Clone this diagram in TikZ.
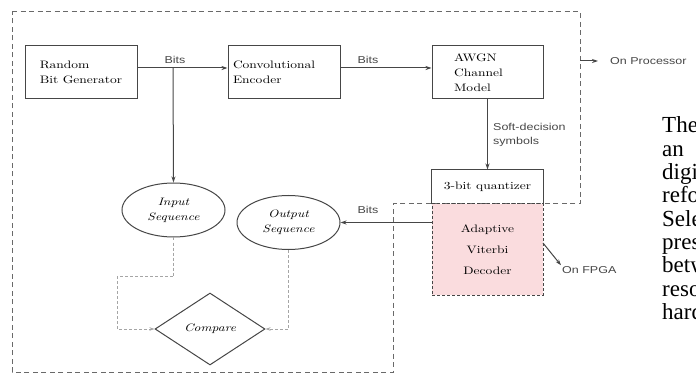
\documentclass[tikz,border=0pt]{standalone}
\usepackage{fontspec}
\usepackage{tikz}
\usetikzlibrary{arrows.meta, shapes.geometric}
\newfontfamily\boxfont{lmroman10-regular.otf}[FakeStretch=1.25, ItalicFont=lmroman10-italic.otf]
\newfontfamily\lblfont{Liberation Sans}[FakeStretch=1.25]
\newfontfamily\bodyfont{Liberation Serif}
\newcommand{\boxtext}{\boxfont\fontsize{10.8}{15}\selectfont}
\newcommand{\lbltext}{\lblfont\fontsize{10}{14}\selectfont}
\definecolor{boxgray}{RGB}{70,70,70}
\definecolor{procgray}{RGB}{105,105,105}
\definecolor{cmpgray}{RGB}{165,165,165}
\definecolor{fpgapink}{RGB}{250,220,222}
\tikzset{
  blk/.style     ={draw=boxgray, line width=1pt, font=\boxtext, inner ysep=3pt},
  seq/.style     ={draw=boxgray, ellipse, line width=1pt, minimum width=103pt, minimum height=54pt, inner sep=0pt, align=center, font=\boxtext\itshape},
  cmpbox/.style  ={draw=boxgray, diamond, line width=1pt, minimum width=110pt, minimum height=72pt, inner sep=0pt, font=\boxtext\itshape},
  flow/.style    ={-{Stealth[length=6pt,width=4pt]}, line width=1pt, boxgray},       % signal path
  cmpline/.style ={-{Stealth[length=5pt,width=3.5pt]}, line width=0.9pt, cmpgray, dash pattern=on 3pt off 2pt}, % to comparator
  procline/.style={line width=1pt, procgray, dash pattern=on 5pt off 3.5pt},
  lbl/.style     ={font=\lbltext, text=boxgray, inner sep=1pt},
  bodytext/.style={font=\bodyfont\fontsize{23}{23}\selectfont, anchor=base west, inner sep=0pt},
}
\begin{document}
\begin{tikzpicture}[x=1pt, y=-1pt]
  \useasboundingbox (0,0) rectangle (696,382);
  \clip (0,0) rectangle (696,382);
  % processor part
  \draw[procline] (12,12) -- (580,12) -- (580,204) -- (393,204) -- (393,372) -- (12,372) -- cycle;
  % blocks
  \node[blk, minimum width=112pt, minimum height=53pt, align=left] (rbg) at (81,72.5) {Random\\Bit Generator};
  \node[blk, minimum width=112pt, minimum height=53pt, text width=102pt, inner xsep=5pt, align=left] (conv) at (284,72.5) {Convolutional\\Encoder};
  \node[blk, minimum width=111pt, minimum height=53pt, text width=67pt, inner xsep=22pt, align=left] (awgn) at (487.5,72.5) {AWGN\\Channel\\Model};
  \node[blk, draw=none, minimum width=111pt, minimum height=34pt] (quant) at (487.5,187) {3-bit quantizer};
  \draw[boxgray, line width=1pt] (quant.south west) -- (quant.north west) -- (quant.north east) -- (quant.south east);
  \node[blk, fill=fpgapink, dash pattern=on 3pt off 2pt, minimum width=111pt, minimum height=91pt, align=center] (vit) at (487.5,249.5) {Adaptive\\[6pt]Viterbi\\[6pt]Decoder};
  \node[seq] (inseq) at (173.5,210) {Input\\Sequence};
  \node[seq] (outseq) at (288.5,222.5) {Output\\Sequence};
  \node[cmpbox] (cmp) at (210,329) {Compare};
  % connectors
  \coordinate (tap) at (173,68);
  \draw[flow] (rbg.east |- tap) -- (conv.west |- tap);
  \node[lbl] (bits1) at (175,60) {Bits};
  \draw[flow] (tap) -- (inseq.north);
  \draw[flow] (conv.east |- tap) -- (awgn.west |- tap);
  \node[lbl] (bits2) at (368,60) {Bits};
  \draw[flow] (awgn.south) -- (quant.north);
  \node[lbl, anchor=north west, align=left] (soft) at (492,122) {Soft-decision\\symbols};
  \draw[flow] (vit.west |- outseq.east) -- (outseq.east);
  \node[lbl] (bits3) at (368,210) {Bits};
  \draw[cmpline] (inseq.south) -- ++(0,39) -| (117,329) -- (cmp.west);
  \draw[cmpline] (outseq.south) |- (cmp.east);
  % where it runs
  \coordinate (procedge) at (580,61);
  \node[lbl, anchor=west] (onproc) at (609,61) {On Processor};
  \draw[flow, shorten >=11pt] (procedge) -- (onproc.west);
  \coordinate (fpgaedge) at (543,243);
  \node[lbl, anchor=west] (onfpga) at (561,270) {On FPGA};
  \draw[flow] (fpgaedge) -- (onfpga.north west);
  % page text beside the figure
  \node[bodytext] (w1) at (662,133) {The};
  \node[bodytext] (w2) at (662,156.3) {an};
  \node[bodytext] (w3) at (662,179.6) {digi};
  \node[bodytext] (w4) at (662,202.9) {refo};
  \node[bodytext] (w5) at (662,226.2) {Sele};
  \node[bodytext] (w6) at (662,249.5) {pres};
  \node[bodytext] (w7) at (662,272.8) {betw};
  \node[bodytext] (w8) at (662,296.1) {reso};
  \node[bodytext] (w9) at (662,319.4) {hard};
\end{tikzpicture}
\end{document}
